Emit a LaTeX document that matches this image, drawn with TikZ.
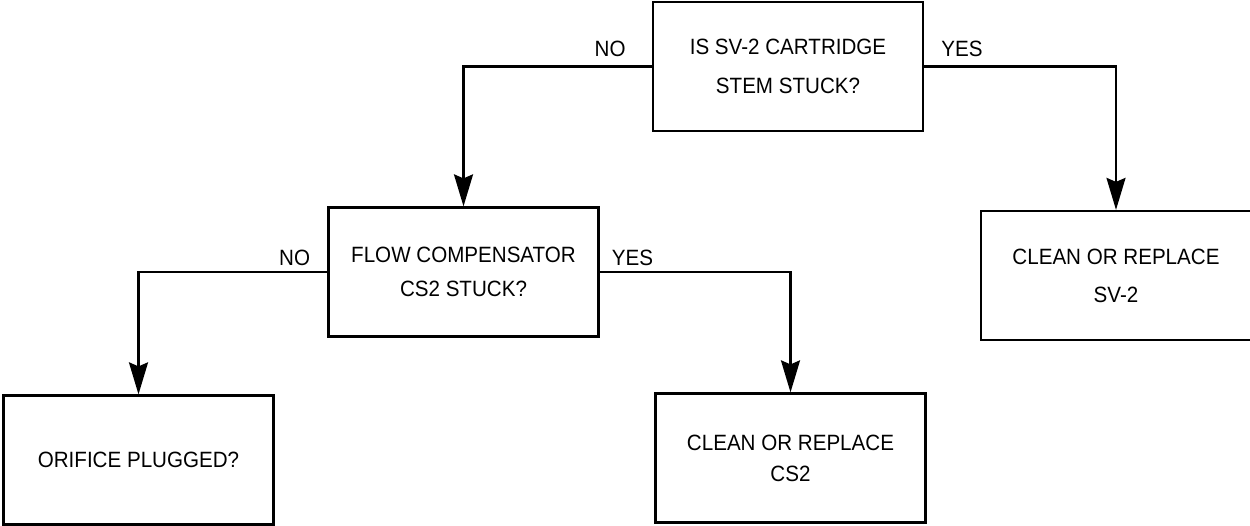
\documentclass[tikz,border=0pt]{standalone}
\usepackage{fontspec}
\setmainfont{Liberation Sans}[FakeStretch=0.93]
\usetikzlibrary{arrows.meta}
\usetikzlibrary{positioning}

\begin{document}
\begin{tikzpicture}[
    x=0.02cm, y=-0.02cm,
    box/.style={draw, line width=1.3pt, minimum width=5.4cm,
      minimum height=2.58cm, align=center, inner sep=0pt,
      font=\fontsize{12.6}{17.6}\selectfont},
    arrow/.style={-{Stealth[length=0.64cm, width=0.38cm, inset=0.08cm]},
      line width=1.3pt},
    lbl/.style={inner sep=0pt, font=\fontsize{12.6}{14}\selectfont},
  ]
  \useasboundingbox (0,0) rectangle (1250,525);

  % === questions ===
  \node[box] (q1) at (788, 66.5) {IS SV-2 CARTRIDGE\\[5pt]STEM STUCK?};
  \node[box] (q2) at (463.5, 272) {FLOW COMPENSATOR\\[2pt]CS2 STUCK?};
  \node[box] (q3) at (138.5, 460) {ORIFICE PLUGGED?};

  % === actions ===
  \node[box] (a1) at (1116, 275.5) {CLEAN OR REPLACE\\[4pt]SV-2};
  \node[box] (a2) at (790.5, 458) {CLEAN OR REPLACE\\CS2};

  % === branches ===
  \draw[arrow] (q1.west) -| (q2.north);
  \node[lbl, anchor=base east, above left=0.18cm and 0.52cm of q1.west] (q1no) {NO};
  \draw[arrow] (q1.east) -| (a1.north);
  \node[lbl, anchor=base west, above right=0.18cm and 0.34cm of q1.east] (q1yes) {YES};

  \draw[arrow] (q2.west) -| (q3.north);
  \node[lbl, anchor=base east, above left=0.12cm and 0.34cm of q2.west] (q2no) {NO};
  \draw[arrow] (q2.east) -| (a2.north);
  \node[lbl, anchor=base west, above right=0.12cm and 0.24cm of q2.east] (q2yes) {YES};

\end{tikzpicture}
\end{document}
